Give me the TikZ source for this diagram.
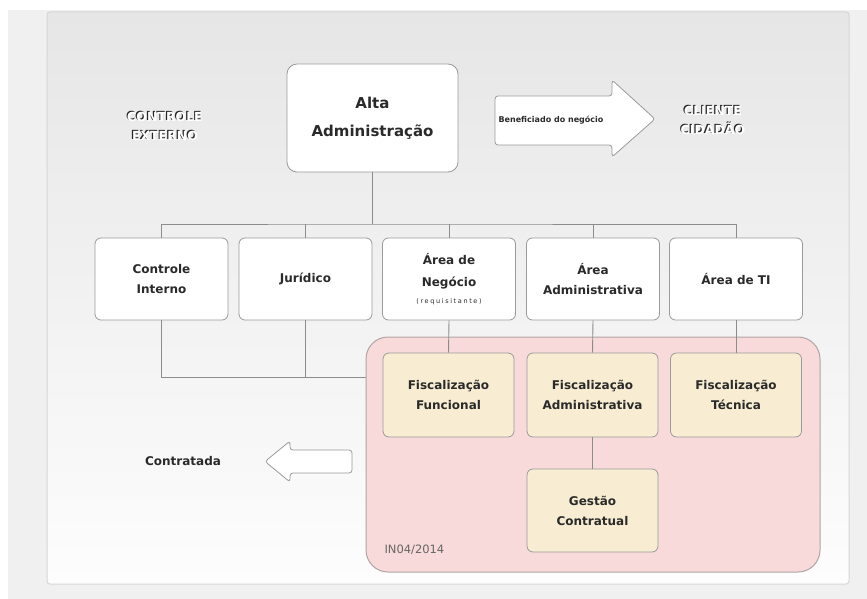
\documentclass[tikz,border=0pt]{standalone}
\usepackage{fontspec}
\setmainfont{DejaVu Sans}
\definecolor{outerbg}{HTML}{F0F0F0}
\definecolor{panelline}{HTML}{D6D6D6}
\definecolor{paneltop}{HTML}{E6E6E6}
\definecolor{panelbot}{HTML}{FDFDFD}
\definecolor{boxline}{HTML}{9A9A9A}
\definecolor{connline}{HTML}{8C8C8C}
\definecolor{zonefill}{HTML}{F9DADA}
\definecolor{zoneline}{HTML}{B0A4A4}
\definecolor{fiscfill}{HTML}{F8EDD2}
\definecolor{txt}{HTML}{2A2A2A}
\begin{document}
\begin{tikzpicture}[x=1pt,y=-1pt,
  unit/.style={draw=boxline, fill=white, line width=0.8pt, rounded corners=6pt,
    minimum width=133pt, minimum height=82pt, align=center, text=txt,
    font=\bfseries\fontsize{12}{20}\selectfont, inner sep=2pt},
  fisc/.style={unit, fill=fiscfill, minimum width=131pt, minimum height=84pt},
  conn/.style={draw=connline, line width=0.9pt},
  bigarrow/.style={draw=boxline, fill=white, line width=0.8pt, rounded corners=3pt},
  emboss/.style={align=center, font=\bfseries\fontsize{12.5}{19}\selectfont}]
\useasboundingbox (0,0) rectangle (867,599);
% page and panel
\fill[white] (0,0) rectangle (867,599);
\fill[outerbg] (8,10) rectangle (867,599);
\shade[top color=paneltop, bottom color=panelbot, draw=panelline, line width=1pt, rounded corners=3pt]
  (47,12) rectangle (849,584);

% top level
\node[unit, minimum width=171pt, minimum height=108pt, rounded corners=10pt,
  font=\bfseries\fontsize{15}{28}\selectfont] (alta) at (372.5,118) {Alta\\Administração};

% embossed side labels
\foreach \nm/\xx/\yy/\tx in {ce/165/126/{CONTROLE\\EXTERNO}, cc/713/120/{CLIENTE\\CIDADÃO}} {
  \node[emboss, text=black!85] at (\xx-1.2,\yy-0.8) {\tx};
  \node[emboss, text=white] (\nm) at (\xx,\yy) {\tx};
}

% benefit arrow
\draw[bigarrow] (495,96) -- (612,96) -- (612,80) -- (655,119) -- (612,157) -- (612,145) -- (495,145) -- cycle;
\node[font=\bfseries\fontsize{8}{9}\selectfont, text=txt] (benef) at (551,120) {Beneficiado do negócio};

% second level
\node[unit] (ci)  at (161.5,279) {Controle\\Interno};
\node[unit] (jur) at (305.5,279) {Jurídico};
\node[unit, font=\bfseries\fontsize{12}{22}\selectfont] (an) at (449,279)
  {Área de\\Negócio\\[-5pt]{\mdseries\fontsize{6.5}{8}\addfontfeature{LetterSpace=25}\selectfont(requisitante)}};
\node[unit] (adm) at (593,279) {Área\\Administrativa};
\node[unit] (ti)  at (736,279) {Área de TI};

% bus from top level to second level
\coordinate (bus) at (372.5,224);
\draw[conn] (alta.south) -- (alta.south |- bus);
\draw[conn] (ci.north) |- (bus) -| (ti.north);
\draw[conn] (jur.north) -- (jur.north |- bus);
\draw[conn] (an.north) -- (an.north |- bus);
\draw[conn] (adm.north) -- (adm.north |- bus);

% contract management zone
\coordinate (side) at (383,377);
\draw[conn] (ci.south) |- (side);
\draw[conn] (jur.south) -- (jur.south |- side);
\draw[fill=zonefill, draw=zoneline, line width=1pt, rounded corners=22pt] (366,337) rectangle (820,572);
\node[anchor=west, font=\fontsize{11.5}{13}\selectfont, text=black!60] (norma) at (381,550) {IN04/2014};

\node[fisc] (ff) at (448.5,395) {Fiscalização\\Funcional};
\node[fisc] (fa) at (592.5,395) {Fiscalização\\Administrativa};
\node[fisc] (ft) at (736,395) {Fiscalização\\Técnica};
\node[fisc, minimum height=83pt] (gc) at (592.5,510.5) {Gestão\\Contratual};

\draw[conn] (an.south) -- (ff.north);
\draw[conn] (adm.south) -- (fa.north);
\draw[conn] (ti.south) -- (ft.north);
\draw[conn] (fa.south) -- (gc.north);

% supplier side
\node[font=\bfseries\fontsize{12}{14}\selectfont, text=txt] (contr) at (183,461) {Contratada};
\draw[bigarrow] (352,450) -- (290,450) -- (290,441) -- (265,461.5) -- (290,482) -- (290,473) -- (352,473) -- cycle;
\end{tikzpicture}
\end{document}
